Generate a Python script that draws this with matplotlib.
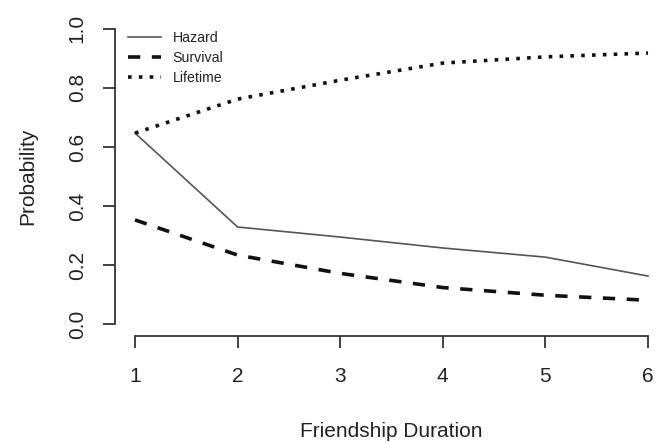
import matplotlib
matplotlib.use("Agg")
import matplotlib.pyplot as plt

duration = [1, 2, 3, 4, 5, 6]
hazard = [0.647, 0.329, 0.295, 0.258, 0.227, 0.163]
survival = [0.353, 0.234, 0.172, 0.124, 0.098, 0.081]
lifetime = [0.647, 0.762, 0.826, 0.884, 0.905, 0.918]
xticks = [1, 2, 3, 4, 5, 6]
yticks = [0.0, 0.2, 0.4, 0.6, 0.8, 1.0]
ytick_labels = ["0.0", "0.2", "0.4", "0.6", "0.8", "1.0"]

plt.rcParams['font.family'] = ['Liberation Sans', 'DejaVu Sans']
dpi = 100
fig = plt.figure(figsize=(6.65, 4.43), dpi=dpi)
ax = fig.add_axes([114.5/665, (443-336)/443, (668.5-114.5)/665, (336-17)/443])

ink = '#333333'
ax.plot(duration, hazard, color='#555555', lw=1.2, label='Hazard')
ax.plot(duration, survival, color='#111111', lw=2.6, dashes=(3.4, 3.2),
        dash_capstyle='butt', label='Survival')
ax.plot(duration, lifetime, color='#111111', lw=2.6, dashes=(1.0, 2.0),
        dash_capstyle='butt', label='Lifetime')

ax.set_xlim(0.8, 6.2)
ax.set_ylim(-0.04, 1.04)
for s in ['top', 'right']:
    ax.spines[s].set_visible(False)
ax.spines['left'].set_bounds(0, 1)
ax.spines['bottom'].set_bounds(1, 6)
for s in ['left', 'bottom']:
    ax.spines[s].set_color(ink)
    ax.spines[s].set_linewidth(1.3)
ax.set_xticks(xticks)
ax.set_xticklabels([str(v) for v in xticks])
ax.set_yticks(yticks)
ax.set_yticklabels(ytick_labels, rotation=90, va='center')
ax.tick_params(direction='out', length=8.5, width=1.3, color=ink,
               labelsize=15, labelcolor='#222222', pad=11.5)
ax.tick_params(axis='x', pad=14)

ax.set_xlabel('Friendship Duration', fontsize=15, color='#222222', labelpad=26)
ax.set_ylabel('Probability', fontsize=15, color='#222222', labelpad=22)

leg = ax.legend(loc='upper left', bbox_to_anchor=(128/665, 1 - 31/443),
                bbox_transform=fig.transFigure, frameon=False, fontsize=10.2,
                handlelength=2.3, handletextpad=0.85, labelspacing=0.42,
                borderpad=0, borderaxespad=0)
for t in leg.get_texts():
    t.set_color('#222222')

fig.savefig('out.png', dpi=dpi, facecolor='white')
